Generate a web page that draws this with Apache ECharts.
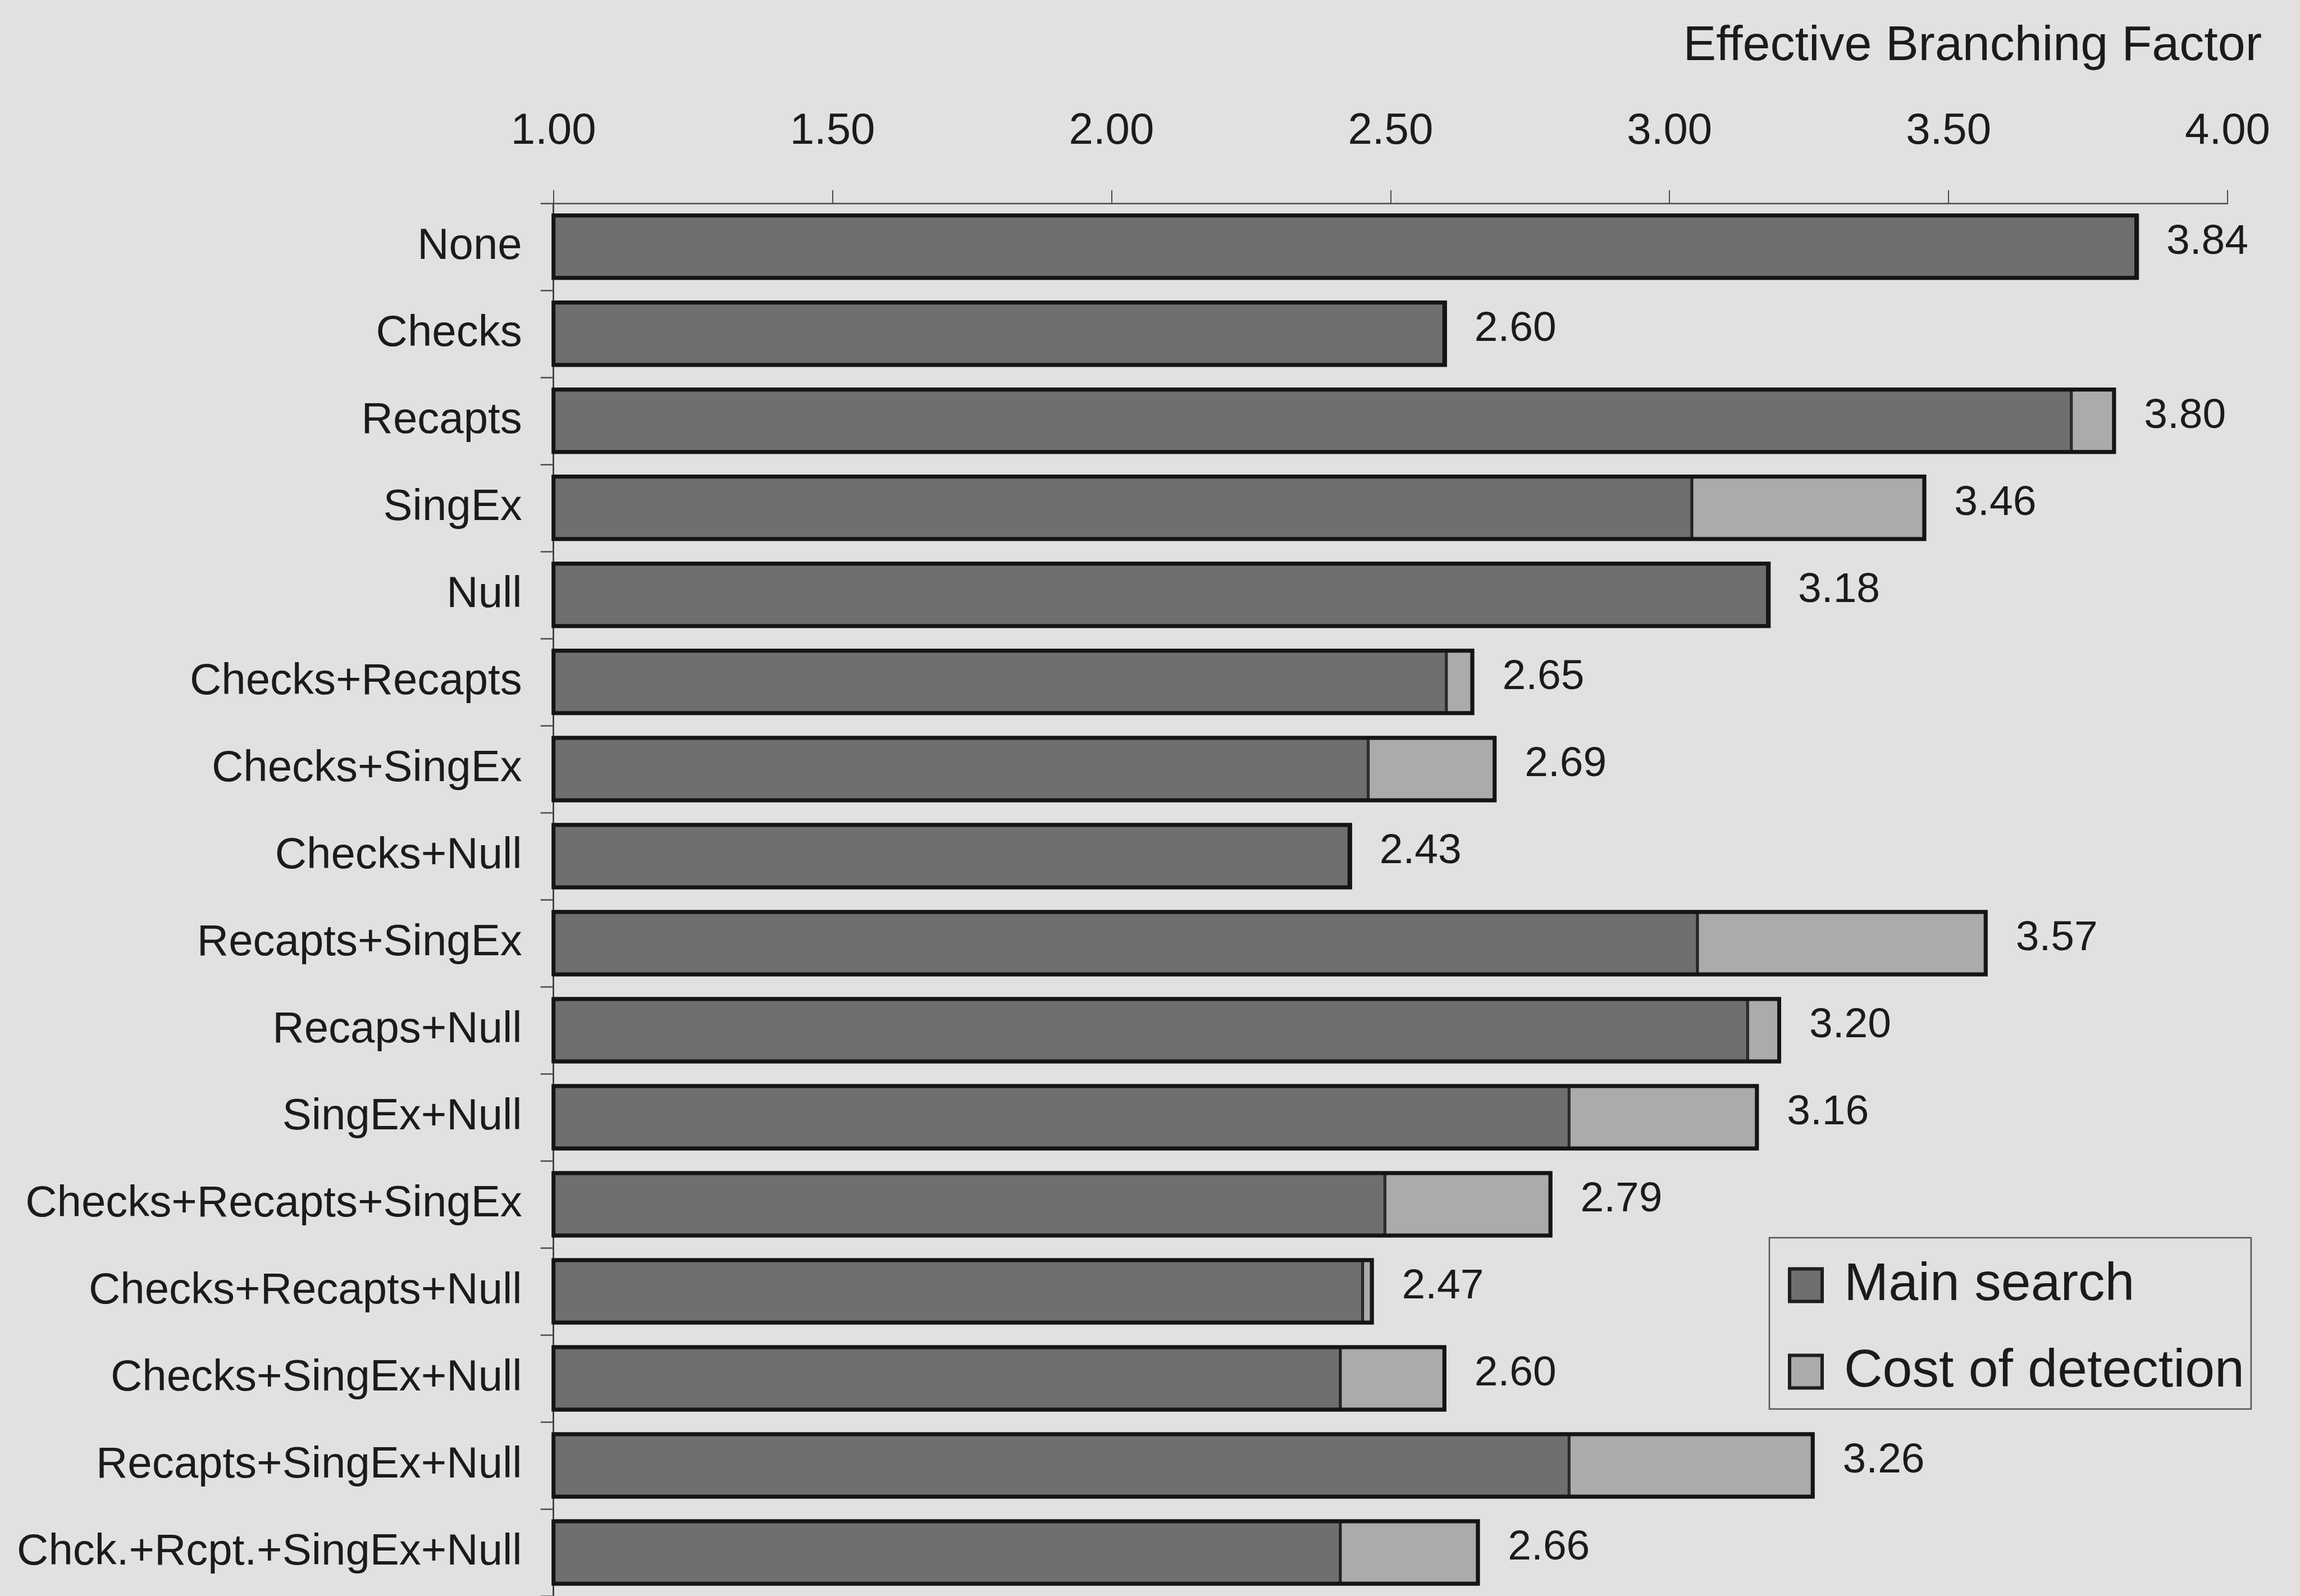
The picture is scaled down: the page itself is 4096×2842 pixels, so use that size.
<!DOCTYPE html>
<html>
<head>
<meta charset="utf-8">
<script src="https://cdn.jsdelivr.net/npm/echarts@6/dist/echarts.min.js"></script>
<style>
html,body{margin:0;padding:0;background:#e1e1e1;}
#c{width:4096px;height:2842px;}
</style>
</head>
<body>
<div id="c"></div>
<script>
const categories = ['None','Checks','Recapts','SingEx','Null','Checks+Recapts','Checks+SingEx','Checks+Null','Recapts+SingEx','Recaps+Null','SingEx+Null','Checks+Recapts+SingEx','Checks+Recapts+Null','Checks+SingEx+Null','Recapts+SingEx+Null','Chck.+Rcpt.+SingEx+Null'];
const mainSearch = [3.84,2.60,3.72,3.04,3.18,2.60,2.46,2.43,3.05,3.14,2.82,2.49,2.45,2.41,2.82,2.41];
const totalEBF   = [3.84,2.60,3.80,3.46,3.18,2.65,2.69,2.43,3.57,3.20,3.16,2.79,2.47,2.60,3.26,2.66];
const axisMin = 1, axisMax = 4, axisStep = 0.5;
const axisTitle = 'Effective Branching Factor';
const seriesNames = ['Main search','Cost of detection'];

const costOfDetection = totalEBF.map((t,i)=>Math.round((t-mainSearch[i])*100)/100);

const FONT = "'Liberation Sans', Arial, Helvetica, sans-serif";
const TXT = '#1b1b1b';
const BAR_W = 118;

const chart = echarts.init(document.getElementById('c'), null, {renderer:'canvas'});
chart.setOption({
  backgroundColor:'#e1e1e1',
  animation:false,
  textStyle:{fontFamily:FONT,color:TXT},
  title:{
    text:axisTitle, right:63, top:34,
    textStyle:{fontFamily:FONT,fontSize:88,fontWeight:'normal',color:TXT}
  },
  legend:{
    orient:'vertical', left:3151, top:2204,
    data:seriesNames, icon:'rect',
    itemWidth:58, itemHeight:58, itemGap:59,
    padding:[37,12,19,33],
    backgroundColor:'#e1e1e1',
    borderColor:'#555', borderWidth:2.5, borderRadius:0,
    itemStyle:{borderColor:'#1e1e1e', borderWidth:6},
    textStyle:{fontFamily:FONT,fontSize:95,color:TXT,padding:[0,0,0,34]}
  },
  grid:{left:985.7, top:361.8, width:2981.3, height:2518.4, containLabel:false},
  xAxis:{
    type:'value', position:'top', min:axisMin, max:axisMax, interval:axisStep,
    axisLine:{show:true,lineStyle:{color:'#4a4a4a',width:2.5}},
    axisTick:{show:true,inside:false,length:23,lineStyle:{color:'#4a4a4a',width:2}},
    splitLine:{show:false},
    axisLabel:{margin:88,fontFamily:FONT,fontSize:78,color:TXT,formatter:v=>v.toFixed(2)}
  },
  yAxis:{
    type:'category', data:categories, inverse:true,
    axisLine:{show:true,lineStyle:{color:'#2a2a2a',width:2.5}},
    axisTick:{show:true,inside:false,length:23,lineStyle:{color:'#4a4a4a',width:2.5}},
    axisLabel:{margin:56,fontFamily:FONT,fontSize:78,color:TXT}
  },
  series:[
    {name:seriesNames[0], type:'bar', stack:'ebf', data:mainSearch, barWidth:BAR_W,
     itemStyle:{color:'#6f6f6f',borderColor:'#1e1e1e',borderWidth:2.5}},
    {name:seriesNames[1], type:'bar', stack:'ebf', data:costOfDetection, barWidth:BAR_W,
     itemStyle:{color:'#ababab',borderColor:'#1e1e1e',borderWidth:2.5}},
    {name:'outline', type:'bar', data:totalEBF, barWidth:BAR_W, barGap:'-100%', silent:true,
     itemStyle:{color:'rgba(0,0,0,0)',borderColor:'#151515',borderWidth:7},
     label:{show:true,position:'right',distance:50,offset:[0,-8],fontFamily:FONT,fontSize:75,color:TXT,
            formatter:p=>Number(p.value).toFixed(2)}}
  ]
});
</script>
</body>
</html>
